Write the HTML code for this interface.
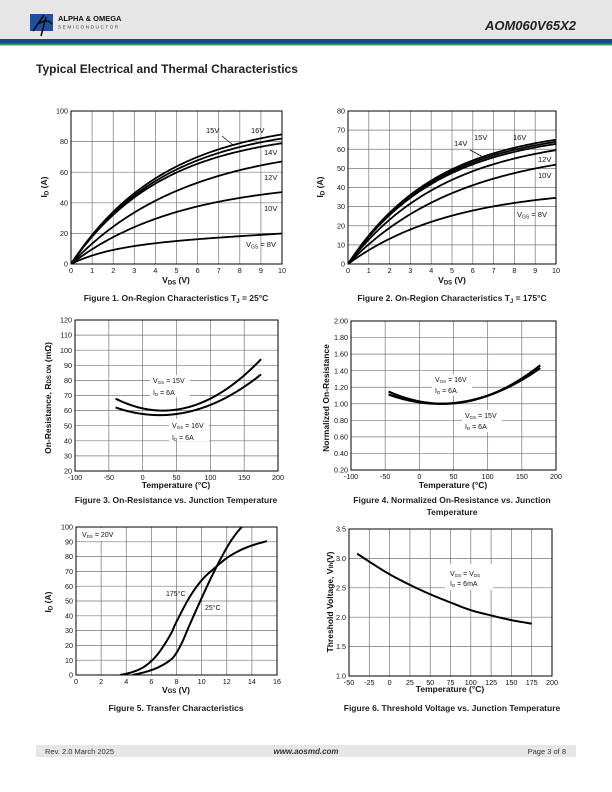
<!DOCTYPE html>
<html><head><meta charset="utf-8"><style>
body{margin:0;width:612px;height:792px;background:#fff;overflow:hidden;font-family:"Liberation Sans",sans-serif;}
svg{position:absolute;left:0;top:0}
</style></head><body>
<svg id="s" width="612" height="792" viewBox="0 0 612 792" font-family="Liberation Sans, sans-serif">
<rect x="0" y="0" width="612" height="39" fill="#e6e6e6"/>
<rect x="0" y="39" width="612" height="4.5" fill="#1f3f8f"/>
<rect x="0" y="43.5" width="612" height="2" fill="#2ea44f"/>
<rect x="30" y="14" width="23" height="17" fill="#1f4fa0"/>
<path d="M33 31 L44 15 M41 36 L46 17 M38 24 Q48 18 52 24" stroke="#111" stroke-width="1.6" fill="none"/>
<text x="58" y="21" font-size="7.5" font-weight="bold" fill="#111">ALPHA &amp; OMEGA</text>
<text x="58" y="28.5" font-size="4.6" letter-spacing="1.6" fill="#333">SEMICONDUCTOR</text>
<text x="576" y="30" font-size="13" font-weight="bold" font-style="italic" text-anchor="end" fill="#222">AOM060V65X2</text>
<text x="36" y="73" font-size="12" font-weight="bold" fill="#222">Typical Electrical and Thermal Characteristics</text>

<g font-size="8.5" font-weight="bold" fill="#222" text-anchor="middle">
<text x="176" y="301">Figure 1.  On-Region Characteristics T<tspan font-size="6" dy="2">J</tspan><tspan dy="-2"> = 25°C</tspan></text>
<text x="452" y="301">Figure 2.  On-Region Characteristics T<tspan font-size="6" dy="2">J</tspan><tspan dy="-2"> = 175°C</tspan></text>
<text x="176" y="503">Figure 3.  On-Resistance vs. Junction Temperature</text>
<text x="452" y="503">Figure 4.  Normalized On-Resistance vs. Junction</text>
<text x="452" y="515">Temperature</text>
<text x="176" y="711">Figure 5.  Transfer Characteristics</text>
<text x="452" y="711">Figure 6.  Threshold Voltage vs. Junction Temperature</text>
</g>

<g font-size="8.5" font-weight="bold" fill="#111" text-anchor="middle">
<text x="176" y="283">V<tspan font-size="6" dy="1.5">DS</tspan><tspan dy="-1.5"> (V)</tspan></text>
<text x="452" y="283">V<tspan font-size="6" dy="1.5">DS</tspan><tspan dy="-1.5"> (V)</tspan></text>
<text x="176" y="488">Temperature (°C)</text>
<text x="453" y="488">Temperature (°C)</text>
<text x="176" y="693">V<tspan font-size="6">GS</tspan> (V)</text>
<text x="450" y="692">Temperature (°C)</text>
<text transform="translate(47,187) rotate(-90)">I<tspan font-size="6" dy="1.5">D</tspan><tspan dy="-1.5"> (A)</tspan></text>
<text transform="translate(323,187) rotate(-90)">I<tspan font-size="6" dy="1.5">D</tspan><tspan dy="-1.5"> (A)</tspan></text>
<text transform="translate(51,398) rotate(-90)">On-Resistance, R<tspan font-size="6">DS ON</tspan> (mΩ)</text>
<text transform="translate(329,398) rotate(-90)">Normalized On-Resistance</text>
<text transform="translate(51,602) rotate(-90)">I<tspan font-size="6" dy="1.5">D</tspan><tspan dy="-1.5"> (A)</tspan></text>
<text transform="translate(333,602) rotate(-90)">Threshold Voltage, V<tspan font-size="6">th</tspan>(V)</text>
</g>
<g id="plots"></g>
<g font-size="7.5" fill="#111">
<text x="206" y="133">15V</text><text x="251" y="133">16V</text>
<path d="M222 136 L233 145" stroke="#111" stroke-width="0.8"/>
<text x="264" y="155">14V</text><text x="264" y="180">12V</text><text x="264" y="211">10V</text>
<text x="246" y="247">V<tspan font-size="5" dy="1.5">GS</tspan><tspan dy="-1.5"> = 8V</tspan></text>
<text x="454" y="146">14V</text><text x="474" y="140">15V</text><text x="513" y="140">16V</text>
<path d="M470 150 L485 158" stroke="#111" stroke-width="0.8"/>
<text x="538" y="162">12V</text><text x="538" y="178">10V</text>
<text x="517" y="217">V<tspan font-size="5" dy="1.5">GS</tspan><tspan dy="-1.5"> = 8V</tspan></text>
</g>
<g font-size="7" fill="#111">
<rect x="150" y="375" width="40" height="22" fill="#fff"/>
<text x="153" y="383">V<tspan font-size="4.5" dy="1">GS</tspan><tspan dy="-1"> = 15V</tspan></text>
<text x="153" y="395">I<tspan font-size="4.5" dy="1">D</tspan><tspan dy="-1"> = 6A</tspan></text>
<rect x="169" y="419" width="40" height="22" fill="#fff"/>
<text x="172" y="428">V<tspan font-size="4.5" dy="1">GS</tspan><tspan dy="-1"> = 16V</tspan></text>
<text x="172" y="440">I<tspan font-size="4.5" dy="1">D</tspan><tspan dy="-1"> = 6A</tspan></text>
<rect x="432" y="374" width="40" height="22" fill="#fff"/>
<text x="435" y="382">V<tspan font-size="4.5" dy="1">GS</tspan><tspan dy="-1"> = 16V</tspan></text>
<text x="435" y="393">I<tspan font-size="4.5" dy="1">D</tspan><tspan dy="-1"> = 6A</tspan></text>
<rect x="462" y="410" width="40" height="22" fill="#fff"/>
<text x="465" y="418">V<tspan font-size="4.5" dy="1">GS</tspan><tspan dy="-1"> = 15V</tspan></text>
<text x="465" y="429">I<tspan font-size="4.5" dy="1">D</tspan><tspan dy="-1"> = 6A</tspan></text>
<rect x="78" y="528" width="44" height="13" fill="#fff"/>
<text x="82" y="537">V<tspan font-size="4.5" dy="1">DS</tspan><tspan dy="-1"> = 20V</tspan></text>
<text x="166" y="596">175°C</text><text x="205" y="610">25°C</text>
<rect x="445" y="564" width="48" height="26" fill="#fff"/>
<text x="450" y="576">V<tspan font-size="4.5" dy="1">GS</tspan><tspan dy="-1"> = V</tspan><tspan font-size="4.5" dy="1">DS</tspan></text>
<text x="450" y="586">I<tspan font-size="4.5" dy="1">D</tspan><tspan dy="-1"> = 6mA</tspan></text>
</g>
<rect x="36" y="745" width="540" height="12" fill="#e6e6e6"/>
<text x="45" y="754" font-size="7.5" fill="#333">Rev. 2.0 March 2025</text>
<text x="306" y="754" font-size="8" font-weight="bold" font-style="italic" text-anchor="middle" fill="#333">www.aosmd.com</text>
<text x="566" y="754" font-size="7.5" text-anchor="end" fill="#333">Page 3 of 8</text>
</svg>
<script>
var NS="http://www.w3.org/2000/svg",G=document.getElementById("plots");
function el(t,a,p){var e=document.createElementNS(NS,t);for(var k in a)e.setAttribute(k,a[k]);(p||G).appendChild(e);return e;}
var cid=0;
function chart(o){
 var g=el("g",{}),W=o.x1-o.x0,H=o.y1-o.y0;
 function X(v){return o.x0+(v-o.xmin)/(o.xmax-o.xmin)*W;}
 function Y(v){return o.y1-(v-o.ymin)/(o.ymax-o.ymin)*H;}
 for(var i=1;i<o.nx;i++){var x=o.x0+W*i/o.nx;el("line",{x1:x,x2:x,y1:o.y0,y2:o.y1,stroke:"#777","stroke-width":0.7},g);}
 for(var i=1;i<o.ny;i++){var y=o.y0+H*i/o.ny;el("line",{x1:o.x0,x2:o.x1,y1:y,y2:y,stroke:"#777","stroke-width":0.7},g);}
 for(var i=0;i<o.xl.length;i++){var t=el("text",{x:o.x0+W*i/(o.xl.length-1),y:o.y1+9,"font-size":7.2,"text-anchor":"middle",fill:"#111"},g);t.textContent=o.xl[i];}
 for(var i=0;i<o.yl.length;i++){var t=el("text",{x:o.x0-3,y:o.y1-H*i/(o.yl.length-1)+2.6,"font-size":7.2,"text-anchor":"end",fill:"#111"},g);t.textContent=o.yl[i];}
 cid++;var cp=el("clipPath",{id:"c"+cid},g);el("rect",{x:o.x0,y:o.y0,width:W,height:H},cp);
 o.curves.forEach(function(c){
  var pts=[];
  if(typeof c=="function"){for(var i=0;i<=100;i++){var v=o.cx0+(o.cx1-o.cx0)*i/100;pts.push([X(v),Y(c(v))]);}}
  else {var raw=c.map(function(p){return [X(p[0]),Y(p[1])];});
   for(var i=0;i<raw.length-1;i++){var p0=raw[Math.max(i-1,0)],p1=raw[i],p2=raw[i+1],p3=raw[Math.min(i+2,raw.length-1)];
    for(var t=0;t<1;t+=0.1){var t2=t*t,t3=t2*t;pts.push([0,1].map(function(k){return 0.5*((2*p1[k])+(-p0[k]+p2[k])*t+(2*p0[k]-5*p1[k]+4*p2[k]-p3[k])*t2+(-p0[k]+3*p1[k]-3*p2[k]+p3[k])*t3);}));}}
   pts.push(raw[raw.length-1]);}
  el("polyline",{points:pts.map(function(p){return p[0].toFixed(2)+","+p[1].toFixed(2)}).join(" "),fill:"none",stroke:"#000","stroke-width":o.sw||1.8,"clip-path":"url(#c"+cid+")"},g);
 });
 el("rect",{x:o.x0,y:o.y0,width:W,height:H,fill:"none",stroke:"#000","stroke-width":1},g);
}
function sat(a,k){return function(x){return a*(1-Math.exp(-x/k));};}
function rng(a,b,s,d){var r=[];for(var v=a;v<=b+1e-9;v+=s)r.push(d!=null?v.toFixed(d):String(v));return r;}
chart({x0:71,x1:282,y0:111,y1:264,xmin:0,xmax:10,ymin:0,ymax:100,nx:10,ny:5,xl:rng(0,10,1),yl:rng(0,100,20),cx0:0,cx1:10,
 curves:[function(x){return 12*(1-Math.exp(-x/2))+0.8*x;},sat(55,5.2),sat(80,5.5),sat(88,4.4),sat(92,4.5),sat(95,4.5)]});
chart({x0:348,x1:556,y0:111,y1:264,xmin:0,xmax:10,ymin:0,ymax:80,nx:10,ny:8,xl:rng(0,10,1),yl:rng(0,80,10),cx0:0,cx1:10,
 curves:[sat(40,5),sat(62,5.5),sat(68,4.8),sat(70,4.4),sat(71,4.35),sat(72,4.3)]});
chart({x0:75,x1:278,y0:320,y1:471,xmin:-100,xmax:200,ymin:20,ymax:120,nx:6,ny:10,xl:rng(-100,200,50),yl:rng(20,120,10),cx0:-40,cx1:175,sw:2,
 curves:[function(x){return 60+0.00162*(x-30)*(x-30);},function(x){return 57+0.0012*(x-25)*(x-25);}]});
chart({x0:351,x1:556,y0:321,y1:470,xmin:-100,xmax:200,ymin:0.2,ymax:2.0,nx:6,ny:9,xl:rng(-100,200,50),yl:rng(0.2,2.0,0.2,2),cx0:-45,cx1:177,sw:2.2,
 curves:[function(x){return 1+0.0000231*(x-35)*(x-35);},function(x){return 1+0.000020*(x-30)*(x-30);}]});
chart({x0:76,x1:277,y0:527,y1:675,xmin:0,xmax:16,ymin:0,ymax:100,nx:8,ny:10,xl:rng(0,16,2),yl:rng(0,100,10),sw:2,
 curves:[[[3.5,0],[4.5,2],[5.5,6],[6.5,14],[7.5,27],[8,36],[9,52],[10,64],[11,72],[12,79],[13,84],[14,87.5],[15.2,90.5]],
 [[4.5,0],[5.5,2],[6.5,5],[7.5,10],[8,15],[8.5,23],[9,33],[10,52],[11,70],[12,86],[12.7,95],[13.4,102]]]});
chart({x0:349,x1:552,y0:529,y1:676,xmin:-50,xmax:200,ymin:1,ymax:3.5,nx:10,ny:5,xl:rng(-50,200,25),yl:rng(1,3.5,0.5,1),sw:2,
 curves:[[[-40,3.08],[-20,2.9],[0,2.73],[25,2.55],[50,2.39],[75,2.25],[100,2.12],[125,2.03],[150,1.95],[175,1.89]]]});
</script>
</body></html>
